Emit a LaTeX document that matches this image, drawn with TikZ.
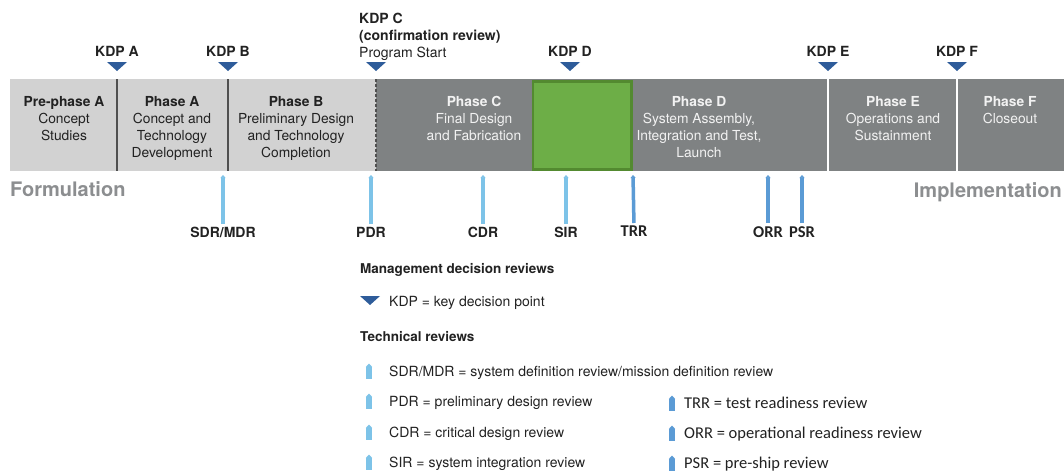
\documentclass[tikz,border=0pt]{standalone}
\usepackage{fontspec}
\setmainfont{TeX Gyre Heros}
\newfontfamily\calfont{Carlito}
\usetikzlibrary{arrows.meta}
\definecolor{barlight}{HTML}{D2D2D2}
\definecolor{bardark}{HTML}{7F8283}
\definecolor{divdark}{HTML}{505050}
\definecolor{greenf}{HTML}{6DAE47}
\definecolor{greenb}{HTML}{538A30}
\definecolor{kdpblue}{HTML}{2E5C9A}
\definecolor{revlight}{HTML}{7DC3E8}
\definecolor{revmid}{HTML}{5B9BD5}
\definecolor{phasegray}{HTML}{8C8E90}
\definecolor{txtdark}{HTML}{222222}
\definecolor{txtlight}{HTML}{F2F2F2}
\begin{document}
\begin{tikzpicture}[x=1pt,y=-1pt,
  phase/.style={anchor=north, align=center, inner sep=0pt,
    font=\fontsize{13.8}{17}\selectfont},
  phasel/.style={phase, text=txtdark},
  phased/.style={phase, text=txtlight},
  kdplab/.style={anchor=north, inner sep=0pt, text=txtdark,
    font=\fontsize{14}{17}\selectfont\bfseries},
  kdptri/.pic={\fill[kdpblue] (0,0) -- (-10,-9) -- (10,-9) -- cycle;},
  revlab/.style={anchor=north, inner sep=0pt, text=txtdark,
    font=\fontsize{14}{17}\selectfont\bfseries},
  revlabc/.style={anchor=north, inner sep=0pt, text=txtdark,
    font=\fontsize{16.5}{17}\calfont\bfseries},
  revarr/.style={line width=3.5pt, -{Triangle[width=5pt,length=3pt]}, shorten <=3pt},
  legicon/.pic={\fill (-3.2,0) rectangle (3.2,-12); \fill (-3.2,-12) -- (0,-15.5) -- (3.2,-12) -- cycle;},
  legtxt/.style={anchor=base west, inner sep=0pt, text=txtdark,
    font=\fontsize{14}{17}\selectfont},
  legtxtc/.style={anchor=base west, inner sep=0pt, text=txtdark,
    font=\fontsize{16.5}{17}\calfont},
  leghead/.style={anchor=base west, inner sep=0pt, text=txtdark,
    font=\fontsize{13.5}{17}\selectfont\bfseries},
  bigword/.style={inner sep=0pt, text=phasegray,
    font=\fontsize{20}{22}\selectfont\bfseries}
]
\useasboundingbox (0,0) rectangle (1064,471);
\fill[white] (0,0) rectangle (1064,471);

% bar
\fill[barlight] (10,79) rectangle (376,171);
\fill[bardark] (376,79) rectangle (1064,171);
\draw[divdark, line width=1.5pt] (117,79) -- (117,171);
\draw[divdark, line width=1.5pt] (228,79) -- (228,171);
\draw[divdark, line width=1.2pt, dash pattern=on 3pt off 2pt] (376,79) -- (376,171);
\draw[white, line width=1.5pt] (828,79) -- (828,171);
\draw[white, line width=1.5pt] (957,79) -- (957,171);
\fill[greenf] (532,80.5) rectangle (632.5,170.5);
\draw[greenb, line width=2.5pt] (533,81.5) rectangle (631.5,169.5);

% phases
\node[phasel] (pre) at (64,96) {\textbf{Pre-phase A}\\Concept\\Studies};
\node[phasel] (pa) at (172,96) {\textbf{Phase A}\\Concept and\\Technology\\Development};
\node[phasel] (pb) at (296,96) {\textbf{Phase B}\\Preliminary Design\\and Technology\\Completion};
\node[phased] (pc) at (474,96) {\textbf{Phase C}\\Final Design\\and Fabrication};
\node[phased] (pd) at (699,96) {\textbf{Phase D}\\System Assembly,\\Integration and Test,\\Launch};
\node[phased] (pe) at (893,96) {\textbf{Phase E}\\Operations and\\Sustainment};
\node[phased] (pf) at (1010,96) {\textbf{Phase F}\\Closeout};

% KDPs
\node[kdplab] (ka) at (117,46.5) {KDP A};
\node[kdplab] (kb) at (228,46.5) {KDP B};
\node[kdplab] (kd) at (570,46.5) {KDP D};
\node[kdplab] (ke) at (828,46.5) {KDP E};
\node[kdplab] (kf) at (957,46.5) {KDP F};
\node[anchor=north west, inner sep=0pt, align=left, text=txtdark,
  font=\fontsize{14}{17}\selectfont] (kc) at (359,13)
  {\textbf{KDP C}\\\textbf{(confirmation review)}\\Program Start};
\pic at (117,71) {kdptri};
\pic at (228,71) {kdptri};
\pic at (376,71) {kdptri};
\pic at (570,71) {kdptri};
\pic at (828,71) {kdptri};
\pic at (957,71) {kdptri};

% phase group words
\node[bigword, anchor=base west] (form) at (10,196) {Formulation};
\node[bigword, anchor=base east] (impl) at (1062,197) {Implementation};

% technical reviews
\node[revlab] (sdr) at (223,227) {SDR/MDR};
\node[revlab] (pdr) at (371,227) {PDR};
\node[revlab] (cdr) at (483,227) {CDR};
\node[revlab] (sir) at (566,227) {SIR};
\node[revlabc] (trr) at (634,226) {TRR};
\node[revlabc] (orr) at (768,226) {ORR};
\node[revlabc] (psr) at (802,226) {PSR};
\coordinate (sdrT) at (223,175);
\coordinate (pdrT) at (371,175);
\coordinate (cdrT) at (483,175);
\coordinate (sirT) at (566,175);
\coordinate (trrT) at (633,175);
\coordinate (orrT) at (768,175);
\coordinate (psrT) at (802,175);
\draw[revarr, revlight] (sdr.north) -- (sdrT);
\draw[revarr, revlight] (pdr.north) -- (pdrT);
\draw[revarr, revlight] (cdr.north) -- (cdrT);
\draw[revarr, revlight] (sir.north) -- (sirT);
\draw[revarr, revmid] (trr.north) -- (trrT);
\draw[revarr, revmid] (orr.north) -- (orrT);
\draw[revarr, revmid] (psr.north) -- (psrT);

% legend
\node[leghead] (lh1) at (360,273) {Management decision reviews};
\pic at (370,305) {kdptri};
\node[legtxt] (l0) at (389,306.5) {KDP = key decision point};
\node[leghead] (lh2) at (360,341) {Technical reviews};
\pic[revlight] at (369,379) {legicon};
\node[legtxt] (l1) at (389,376) {SDR/MDR = system definition review/mission definition review};
\pic[revlight] at (369,409) {legicon};
\node[legtxt] (l2) at (389,406) {PDR = preliminary design review};
\pic[revlight] at (369,440) {legicon};
\node[legtxt] (l3) at (389,437) {CDR = critical design review};
\pic[revlight] at (369,470) {legicon};
\node[legtxt] (l4) at (389,467) {SIR = system integration review};
\pic[revmid] at (672,411) {legicon};
\node[legtxtc] (l5) at (684,408) {TRR = test readiness review};
\pic[revmid] at (672,441) {legicon};
\node[legtxtc] (l6) at (684,438) {ORR = operational readiness review};
\pic[revmid] at (672,471) {legicon};
\node[legtxtc] (l7) at (684,468) {PSR = pre-ship review};
\end{tikzpicture}
\end{document}
